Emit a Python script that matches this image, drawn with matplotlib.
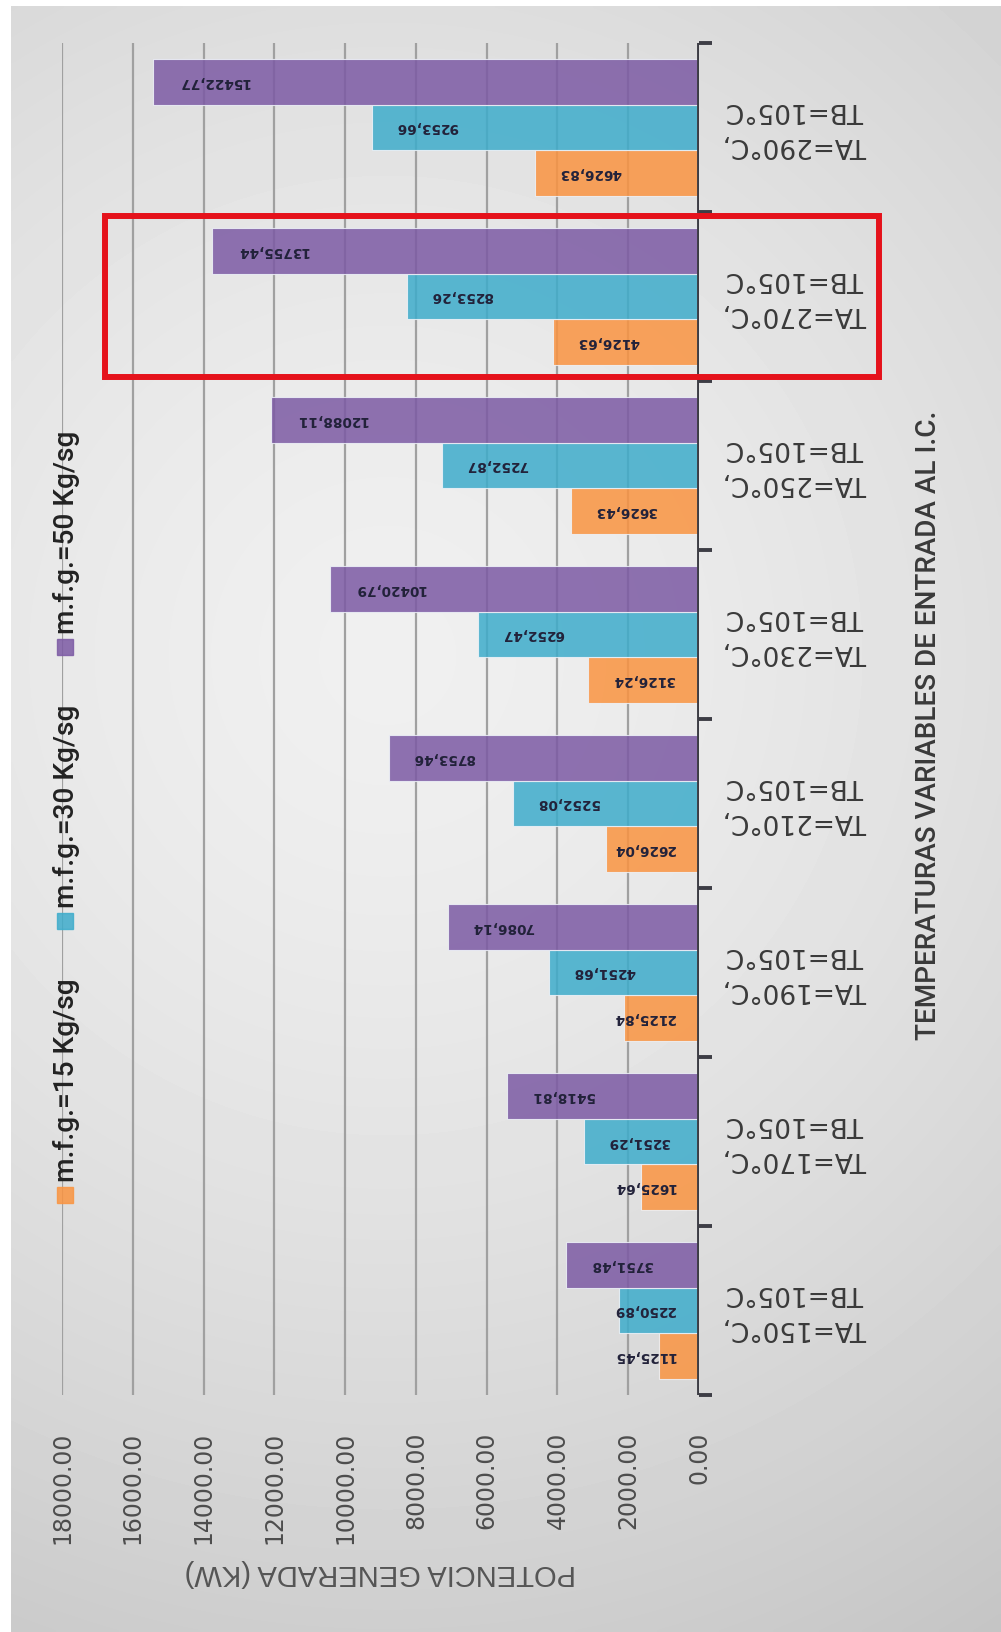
import numpy as np
import matplotlib
matplotlib.use("Agg")
import matplotlib.pyplot as plt
from matplotlib.patches import Rectangle
from matplotlib import transforms

# ---- data -------------------------------------------------------------
categories = [
    "TA=150°C,\nTB=105°C",
    "TA=170°C,\nTB=105°C",
    "TA=190°C,\nTB=105°C",
    "TA=210°C,\nTB=105°C",
    "TA=230°C,\nTB=105°C",
    "TA=250°C,\nTB=105°C",
    "TA=270°C,\nTB=105°C",
    "TA=290°C,\nTB=105°C",
]
series_names = ["m.f.g.=15 Kg/sg", "m.f.g.=30 Kg/sg", "m.f.g.=50 Kg/sg"]
mfg15 = [1125.45, 1625.64, 2125.84, 2626.04, 3126.24, 3626.43, 4126.63, 4626.83]
mfg30 = [2250.89, 3251.29, 4251.68, 5252.08, 6252.47, 7252.87, 8253.26, 9253.66]
mfg50 = [3751.48, 5418.81, 7086.14, 8753.46, 10420.79, 12088.11, 13755.44, 15422.77]
value_ticks = [0, 2000, 4000, 6000, 8000, 10000, 12000, 14000, 16000, 18000]
highlighted = "TA=270°C,\nTB=105°C"
value_title = "POTENCIA GENERADA (KW)"
category_title = "TEMPERATURAS VARIABLES DE ENTRADA AL I.C."

# ---- style ------------------------------------------------------------
colors = ["#fa9441", "#3eaccb", "#7c5aa4"]
bar_alpha = 0.85
axis_color = "#3d3d45"
narrow = ["Roboto", "DejaVu Sans"]

W, H = 1001, 1632
fig = plt.figure(figsize=(W / 100, H / 100), dpi=100, facecolor="white")


def fx(px):
    return px / W


def fy(py):
    return 1 - py / H


# soft radial background
bg = fig.add_axes([fx(11), 0, 1 - fx(11), 1 - 6 / H], zorder=-10)
gy, gx = np.mgrid[0:H:4, 0:W:4]
d = np.hypot(gx - 380, gy - 650) / 1160.0
shade = 0.94 - 0.17 * np.clip(d, 0, 1.1) ** 1.5
bg.imshow(shade, cmap="gray", vmin=0, vmax=1, aspect="auto",
          extent=[0, 1, 0, 1], interpolation="bilinear")
bg.axis("off")

# ---- main bar axes (rotated layout: bars grow leftwards) --------------
ax = fig.add_axes([fx(62), fy(1395), fx(699) - fx(62), (1395 - 43) / H])
ax.set_facecolor("none")
ax.set_xlim(18000, 0)
ax.set_ylim(-0.5, len(categories) - 0.5)
for s in ax.spines.values():
    s.set_visible(False)

for v in value_ticks[1:]:
    ax.axvline(v, color="#a0a0a0", lw=1.6, zorder=1)
ax.axvline(0, color=axis_color, lw=2.8, zorder=5)

ypos = np.arange(len(categories))
offsets = [-0.272, 0.0, 0.272]
series = [mfg15, mfg30, mfg50]
labels = []
pad_px = 24
for vals, off, col in zip(series, offsets, colors):
    ax.barh(ypos + off, vals, height=0.272, color=col, alpha=bar_alpha,
            edgecolor="#eef2f8", linewidth=0.8, zorder=2)
    for y, v in zip(ypos, vals):
        t = ax.annotate(f"{v:.2f}".replace(".", ","), xy=(v, y + off),
                        xytext=(pad_px * 0.72, 0), textcoords="offset points",
                        ha="left", va="center", rotation=180,
                        fontsize=9.8, fontweight="bold", color="#22223a",
                        family="DejaVu Sans", zorder=6)
        labels.append(t)

# category boundaries as ticks on the right side of the axis line
ax.set_yticks(np.arange(-0.5, len(categories), 1.0))
ax.tick_params(axis="y", left=False, right=True, direction="out",
               length=9.4, width=2.8, color=axis_color,
               labelleft=False, labelright=False)

ax.set_xticks(value_ticks)
ax.set_xticklabels([f"{v:.2f}" for v in value_ticks])
ax.tick_params(axis="x", length=0, pad=26.6, labelrotation=90,
               labelsize=17, labelcolor="#4d4d4d")

for i, cat in enumerate(categories):
    ax.annotate(cat, xy=(0, i), xytext=(96 * 0.72, 0),
                textcoords="offset points", ha="center", va="center",
                rotation=180, multialignment="center", linespacing=1.45,
                fontsize=19, color="#3a3a3a", family="DejaVu Sans",
                annotation_clip=False)

# highlight frame around one category
hi = categories.index(highlighted)
blend = transforms.blended_transform_factory(fig.transFigure, ax.transData)
ax.add_patch(Rectangle((fx(105), hi - 0.475), fx(879) - fx(105), 0.95,
                       transform=blend, fill=False, edgecolor="#e5121b",
                       linewidth=4.3, clip_on=False, zorder=10))

# titles
fig.text(fx(380), fy(1573), value_title, rotation=180, ha="center",
         va="center", fontsize=21, color="#555555", family="Liberation Sans")
cat_title = fig.text(fx(929), fy(725), category_title, rotation=90,
                     ha="center", va="center", fontsize=22, color="#3a3a3a",
                     fontweight="medium", family=narrow)

# legend, written along the left edge
legend_texts = []
for name, col, my in zip(series_names, colors, [1195, 921, 647]):
    fig.patches.append(Rectangle((fx(57), fy(my + 8)), fx(16), 16 / H,
                                 transform=fig.transFigure, color=col,
                                 alpha=bar_alpha))
    legend_texts.append(
        fig.text(fx(66), fy(my - 13), name, rotation=90, ha="center",
                 va="bottom", fontsize=20, color="#222222",
                 fontweight="medium", family=narrow))

# size the vertical texts to their run lengths
fig.canvas.draw()
renderer = fig.canvas.get_renderer()
for t, run in [(cat_title, 630)] + [(lt, 204) for lt in legend_texts]:
    h = t.get_window_extent(renderer).height
    t.set_fontsize(t.get_fontsize() * run / h)

# keep value labels off the axis line for short bars
limit = ax.transData.transform((0, 0))[0] - pad_px
for t in labels:
    bb = t.get_window_extent(renderer)
    if bb.x1 > limit:
        shift = bb.x1 - limit
        t.xyann = ((pad_px - shift) * 0.72, 0)

fig.savefig("out.png", dpi=100)
